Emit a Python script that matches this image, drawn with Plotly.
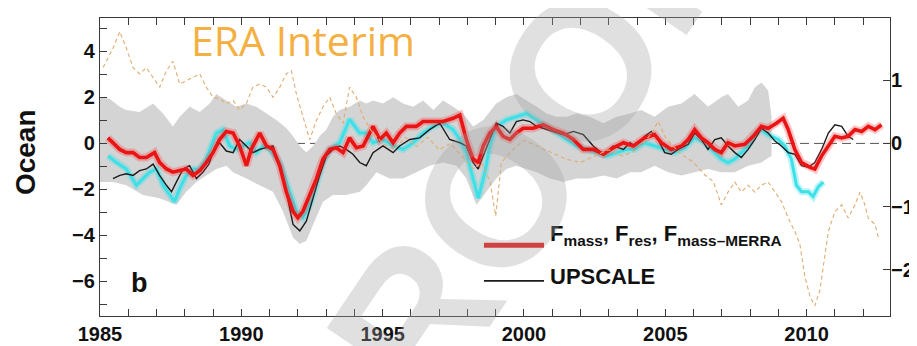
import plotly.graph_objects as go

# ---------------- data ----------------
red_years = [1985.28, 1985.46, 1985.70, 1985.93, 1986.17, 1986.40, 1986.64, 1986.93, 1987.11, 1987.35,
             1987.58, 1987.82, 1988.05, 1988.29, 1988.53, 1988.76, 1989.00, 1989.23, 1989.47, 1989.71,
             1989.94, 1990.18, 1990.35, 1990.65, 1990.89, 1991.12, 1991.36, 1991.59, 1991.83, 1992.00,
             1992.18, 1992.42, 1992.66, 1992.89, 1993.13, 1993.36, 1993.60, 1993.83, 1994.07, 1994.31,
             1994.66, 1994.90, 1995.13, 1995.37, 1995.60, 1995.84, 1996.19, 1996.43, 1996.78, 1997.14,
             1997.49, 1997.73, 1997.96, 1998.20, 1998.38, 1998.56, 1998.79, 1999.02, 1999.26, 1999.50,
             1999.73, 1999.97, 2000.33, 2000.68, 2001.04, 2001.39, 2001.75, 2002.10, 2002.45, 2002.81,
             2003.16, 2003.52, 2003.87, 2004.27, 2004.62, 2004.86, 2005.21, 2005.57, 2005.81, 2006.04,
             2006.28, 2006.51, 2006.75, 2006.98, 2007.22, 2007.46, 2007.81, 2008.11, 2008.40, 2008.64,
             2008.93, 2009.17, 2009.35, 2009.58, 2009.82, 2010.12, 2010.29, 2010.53, 2010.77, 2011.00,
             2011.24, 2011.47, 2011.71, 2011.95, 2012.18, 2012.42, 2012.65]
red_values = [0.24, 0.03, -0.26, -0.40, -0.40, -0.61, -0.61, -0.40, -0.83, -1.11,
              -1.25, -1.18, -1.11, -1.39, -1.18, -0.83, -0.40, 0.17, 0.52, 0.45,
              -0.11, -0.97, -0.26, 0.45, -0.11, -0.26, -0.97, -2.10, -2.95, -3.23,
              -2.95, -2.24, -1.53, -0.68, -0.26, -0.19, -0.40, 0.24, -0.19, -0.11,
              0.74, 0.17, 0.45, 0.03, 0.45, 0.74, 0.74, 0.95, 0.95, 0.95,
              1.09, 1.23, 0.17, -0.68, -0.83, -0.11, 0.45, 0.74, 0.31, 0.17,
              0.45, 0.66, 0.66, 0.81, 0.60, 0.45, 0.17, -0.26, -0.26, -0.47,
              -0.19, 0.03, -0.11, 0.24, 0.38, 0.03, -0.26, -0.11, 0.17, 0.60,
              0.24, 0.03, -0.26, -0.40, 0.03, -0.11, -0.04, 0.31, 0.74, 0.66,
              0.88, 1.09, 0.60, -0.26, -0.83, -1.04, -1.11, -0.54, -0.11, 0.31,
              0.24, 0.31, 0.60, 0.52, 0.74, 0.60, 0.81]

upscale_years = [1985.46, 1985.70, 1985.93, 1986.17, 1986.40, 1986.64, 1986.88, 1987.11, 1987.35, 1987.53,
                 1987.70, 1987.94, 1988.17, 1988.41, 1988.64, 1988.85, 1989.00, 1989.23, 1989.47, 1989.71,
                 1989.94, 1990.18, 1990.41, 1990.65, 1990.89, 1991.12, 1991.36, 1991.59, 1991.83, 1992.07,
                 1992.30, 1992.54, 1992.77, 1993.01, 1993.24, 1993.48, 1993.71, 1993.95, 1994.19, 1994.42,
                 1994.66, 1995.01, 1995.37, 1995.60, 1995.96, 1996.31, 1996.66, 1997.02, 1997.37, 1997.73,
                 1997.96, 1998.20, 1998.38, 1998.56, 1998.79, 1999.02, 1999.26, 1999.50, 1999.73, 1999.97,
                 2000.21, 2000.44, 2000.68, 2001.04, 2001.39, 2001.75, 2002.10, 2002.45, 2002.81, 2003.16,
                 2003.52, 2003.75, 2003.92, 2004.27, 2004.51, 2004.74, 2004.98, 2005.21, 2005.45, 2005.81,
                 2006.04, 2006.28, 2006.51, 2006.75, 2006.98, 2007.22, 2007.46, 2007.69, 2007.93, 2008.17,
                 2008.40, 2008.64, 2008.88, 2009.11, 2009.35, 2009.58, 2009.82, 2010.06, 2010.29, 2010.53,
                 2010.77, 2011.00, 2011.24, 2011.47, 2011.65]
upscale_values = [-1.53, -1.39, -1.32, -1.39, -1.18, -1.11, -0.90, -1.39, -1.82, -2.10,
                  -1.68, -1.11, -0.97, -1.53, -1.25, -0.90, -0.40, 0.03, -0.33, -0.40,
                  0.17, -0.11, -0.40, -0.26, -0.19, -0.11, -0.97, -2.10, -3.52, -3.80,
                  -3.38, -2.38, -1.39, -0.54, -0.26, -0.11, -0.26, -0.47, -0.83, -0.97,
                  -0.40, -0.11, -0.40, -0.11, 0.17, 0.24, 0.60, 0.88, 0.17, 0.03,
                  -0.11, -0.83, -1.11, -0.54, 0.17, 0.88, 0.74, 0.45, 0.95, 1.02,
                  0.95, 0.74, 0.66, 0.52, 0.38, 0.52, 0.38, -0.11, -0.47, -0.11,
                  -0.26, 0.03, -0.11, 0.31, 0.52, 0.17, -0.40, -0.47, -0.26, -0.04,
                  0.45, 0.17, -0.26, 0.17, 0.24, -0.11, -0.40, -0.61, -0.26, 0.17,
                  0.66, 0.45, 0.10, -0.11, -0.40, -0.47, -0.97, -1.04, -0.83, -0.26,
                  0.45, 0.81, 0.74, 0.31, 0.17]

cyan_years = [1985.29, 1985.58, 1985.93, 1986.29, 1986.52, 1986.76, 1987.00, 1987.23, 1987.47, 1987.64,
              1987.82, 1988.05, 1988.29, 1988.53, 1988.76, 1989.12, 1989.35, 1989.59, 1989.82, 1990.06,
              1990.30, 1990.53, 1990.77, 1991.00, 1991.36, 1991.71, 1991.95, 1992.18, 1992.42, 1992.66,
              1992.89, 1993.13, 1993.48, 1993.83, 1994.19, 1994.42, 1994.66, 1995.01, 1995.37, 1995.72,
              1996.08, 1996.43, 1996.79, 1997.14, 1997.49, 1997.73, 1997.96, 1998.20, 1998.38, 1998.62,
              1998.79, 1999.02, 1999.38, 1999.73, 2000.09, 2000.45, 2000.80, 2001.16, 2001.51, 2001.86,
              2002.22, 2002.57, 2002.93, 2003.28, 2003.63, 2003.92, 2004.27, 2004.62, 2004.98, 2005.33,
              2005.69, 2006.04, 2006.39, 2006.75, 2006.98, 2007.22, 2007.46, 2007.69, 2007.93, 2008.17,
              2008.40, 2008.64, 2008.99, 2009.23, 2009.46, 2009.64, 2009.82, 2010.06, 2010.23, 2010.41,
              2010.59]
cyan_values = [-0.54, -0.83, -1.11, -1.82, -1.53, -1.25, -1.11, -1.82, -2.24, -2.53,
               -1.96, -1.39, -1.11, -1.11, -0.68, 0.45, 0.60, -0.11, -0.26, -0.11,
               0.03, -0.40, -0.11, -0.26, -0.83, -2.10, -2.95, -3.23, -2.67, -1.82,
               -0.83, -0.26, 0.03, 1.05, 0.45, 0.45, 0.03, 0.17, -0.11, -0.26,
               0.03, 0.45, 0.74, 0.88, 0.60, 0.17, -0.40, -1.53, -2.38, -1.25,
               -0.11, 0.74, 1.02, 1.16, 1.30, 1.02, 0.74, 0.45, 0.17, -0.11,
               -0.26, -0.40, -0.54, -0.40, -0.26, -0.26, 0.03, -0.11, -0.26, -0.40,
               -0.19, 0.24, 0.03, -0.40, -0.68, -0.83, -0.68, -0.40, -0.11, 0.38,
               0.60, 0.38, 0.17, -0.11, -0.68, -1.82, -2.10, -2.10, -2.31, -1.89,
               -1.68]

band_upper_years = [1985.00, 1985.34, 1985.70, 1985.93, 1986.40, 1986.88, 1987.23, 1987.58, 1987.82, 1988.17,
                    1988.53, 1988.88, 1989.12, 1989.47, 1989.82, 1990.18, 1990.53, 1990.89, 1991.24, 1991.59,
                    1991.83, 1992.07, 1992.30, 1992.54, 1992.77, 1993.01, 1993.24, 1993.48, 1993.83, 1994.19,
                    1994.42, 1994.66, 1995.01, 1995.37, 1995.72, 1996.08, 1996.43, 1996.79, 1997.14, 1997.49,
                    1997.85, 1998.20, 1998.56, 1999.02, 1999.38, 1999.73, 2000.09, 2000.45, 2000.80, 2001.16,
                    2001.51, 2001.86, 2002.33, 2002.81, 2003.28, 2003.75, 2004.15, 2004.62, 2005.10, 2005.57,
                    2006.04, 2006.51, 2006.98, 2007.22, 2007.58, 2007.93, 2008.17, 2008.40, 2008.64, 2008.76]
band_upper = [2.01, 1.94, 1.59, 1.45, 1.37, 1.73, 1.30, 0.74, 1.16, 1.59,
              1.37, 1.73, 2.15, 1.87, 1.59, 1.73, 1.59, 1.30, 1.02, 0.67,
              0.31, -0.11, -0.40, -0.11, 0.31, 0.60, 1.16, 1.45, 1.59, 1.87,
              1.73, 1.87, 1.73, 2.01, 1.73, 1.59, 1.87, 1.45, 1.87, 1.59,
              1.30, 0.74, 1.02, 1.73, 2.01, 2.15, 1.87, 1.59, 1.30, 1.16,
              1.16, 1.30, 1.16, 0.88, 1.16, 1.30, 1.45, 1.16, 1.59, 1.73,
              2.15, 1.59, 2.01, 2.15, 1.59, 1.87, 2.44, 2.65, 2.30, 1.16]
band_lower_years = [1985.00, 1985.46, 1985.93, 1986.52, 1987.11, 1987.70, 1988.05, 1988.41, 1988.76, 1989.12,
                    1989.47, 1989.71, 1990.18, 1990.65, 1991.12, 1991.47, 1991.83, 1992.07, 1992.30, 1992.54,
                    1992.89, 1993.24, 1993.71, 1994.19, 1994.42, 1994.78, 1995.25, 1995.72, 1996.19, 1996.66,
                    1997.14, 1997.61, 1997.96, 1998.32, 1998.67, 1999.02, 1999.38, 1999.73, 2000.09, 2000.45,
                    2000.92, 2001.39, 2001.86, 2002.33, 2002.81, 2003.28, 2003.75, 2004.15, 2004.62, 2005.10,
                    2005.57, 2006.04, 2006.51, 2006.98, 2007.46, 2007.93, 2008.40, 2008.76]
band_lower = [-1.68, -1.68, -1.82, -2.24, -2.38, -2.67, -2.10, -1.68, -1.39, -1.11,
              -0.97, -1.25, -1.53, -1.82, -2.10, -2.95, -4.09, -4.37, -4.23, -3.52,
              -2.53, -2.24, -2.24, -2.10, -1.82, -1.25, -1.53, -1.53, -1.25, -0.97,
              -0.83, -0.97, -1.53, -2.67, -2.10, -1.53, -1.11, -0.97, -1.11, -1.25,
              -1.53, -1.68, -1.53, -1.53, -1.39, -1.53, -1.25, -1.25, -0.97, -1.25,
              -1.39, -1.25, -1.11, -1.25, -1.25, -0.97, -0.83, -0.54]

era_years = [1985.11, 1985.46, 1985.70, 1985.93, 1986.17, 1986.40, 1986.64, 1986.88, 1987.11, 1987.35,
             1987.58, 1987.82, 1988.05, 1988.29, 1988.53, 1988.76, 1989.00, 1989.23, 1989.47, 1989.71,
             1989.94, 1990.18, 1990.41, 1990.65, 1990.89, 1991.12, 1991.36, 1991.59, 1991.77, 1991.95,
             1992.18, 1992.42, 1992.66, 1992.89, 1993.13, 1993.36, 1993.60, 1993.83, 1994.07, 1994.31,
             1994.60, 1995.00, 1995.40, 1995.80, 1996.20, 1996.60, 1997.00, 1997.40, 1997.80, 1998.20,
             1998.50, 1998.80, 1999.00, 1999.20, 1999.60, 2000.00, 2000.50, 2001.00, 2001.50, 2002.00,
             2002.50, 2003.00, 2003.50, 2004.00, 2004.50, 2004.75, 2005.00, 2005.50, 2006.00, 2006.40,
             2006.70, 2006.98, 2007.22, 2007.46, 2007.69, 2007.93, 2008.17, 2008.40, 2008.64, 2008.88,
             2009.11, 2009.35, 2009.58, 2009.76, 2009.94, 2010.12, 2010.29, 2010.47, 2010.65, 2010.77,
             2011.00, 2011.24, 2011.47, 2011.71, 2011.89, 2012.06, 2012.18, 2012.42, 2012.54]
era_values = [1.20, 1.51, 1.77, 1.51, 1.20, 1.10, 1.20, 1.04, 0.89, 1.15,
              1.30, 0.94, 0.99, 1.04, 1.10, 0.89, 0.73, 0.71, 0.63, 0.68,
              0.53, 0.63, 0.89, 0.94, 0.89, 0.73, 0.89, 1.10, 1.15, 0.78,
              0.42, 0.06, 0.37, 0.58, 0.73, 0.47, 0.32, 0.89, 0.73, 0.42,
              0.20, 0.00, -0.10, 0.10, -0.05, 0.10, -0.10, 0.00, -0.20, -0.40,
              -0.30, -0.60, -1.15, -0.30, -0.10, 0.05, -0.05, -0.15, -0.25, -0.30,
              -0.20, -0.10, -0.20, -0.10, 0.15, 0.35, 0.10, -0.15, -0.30, -0.50,
              -0.60, -0.97, -0.77, -0.61, -0.77, -0.66, -0.77, -0.66, -0.61, -0.77,
              -0.92, -1.18, -1.39, -1.59, -2.11, -2.42, -2.57, -2.32, -1.80, -1.39,
              -1.08, -0.97, -1.18, -0.97, -0.77, -0.97, -1.18, -1.28, -1.49]

x_tick_years = [1985, 1990, 1995, 2000, 2005, 2010]
left_ticks = [-6, -4, -2, 0, 2, 4]
right_ticks = [-2, -1, 0, 1]

# ---------------- figure ----------------
FONT = "Liberation Sans"
AX = "#3a3a3a"

fig = go.Figure()

# gray envelope
fig.add_trace(go.Scatter(
    x=band_upper_years + band_lower_years[::-1],
    y=band_upper + band_lower[::-1],
    fill="toself", fillcolor="rgb(212,212,212)", mode="none",
    hoverinfo="skip", showlegend=False))

# ERA Interim (right axis), dashed orange
fig.add_trace(go.Scatter(x=era_years, y=era_values, yaxis="y2", mode="lines",
                         line=dict(color="rgb(224,172,112)", width=1.1, dash="4px,3px"),
                         showlegend=False))

# cyan series (with soft halo)
fig.add_trace(go.Scatter(x=cyan_years, y=cyan_values, mode="lines",
                         line=dict(color="rgba(64,224,232,0.35)", width=7), showlegend=False, hoverinfo="skip"))
fig.add_trace(go.Scatter(x=cyan_years, y=cyan_values, mode="lines",
                         line=dict(color="rgb(60,225,232)", width=3), showlegend=False))

# UPSCALE (black)
fig.add_trace(go.Scatter(x=upscale_years, y=upscale_values, mode="lines",
                         line=dict(color="#1a1a1a", width=1.4), name="UPSCALE", showlegend=False))

# F_mass (red, with halo)
fig.add_trace(go.Scatter(x=red_years, y=red_values, mode="lines",
                         line=dict(color="rgba(255,60,60,0.3)", width=8), showlegend=False, hoverinfo="skip"))
fig.add_trace(go.Scatter(x=red_years, y=red_values, mode="lines",
                         line=dict(color="rgb(235,20,20)", width=3.6), showlegend=False))

# dashed zero reference line
fig.add_shape(type="line", xref="paper", x0=0, x1=1, yref="y", y0=0, y1=0,
              line=dict(color="#555555", width=1, dash="9px,5px"), layer="between")

# manual legend
fig.add_shape(type="line", xref="paper", yref="paper", x0=0.486, x1=0.562, y0=0.237, y1=0.237,
              line=dict(color="rgb(230,20,20)", width=5))
fig.add_shape(type="line", xref="paper", yref="paper", x0=0.486, x1=0.562, y0=0.118, y1=0.118,
              line=dict(color="#1a1a1a", width=1.6))
fig.add_annotation(xref="paper", yref="paper", x=0.567, y=0.272, xanchor="left", yanchor="middle",
                   text="F<sub>mass</sub>, F<sub>res</sub>, F<sub>mass\u2013MERRA</sub>", showarrow=False,
                   font=dict(family=FONT, size=22, color="#111", weight="bold"))
fig.add_annotation(xref="paper", yref="paper", x=0.567, y=0.132, xanchor="left", yanchor="middle",
                   text="UPSCALE", showarrow=False,
                   font=dict(family=FONT, size=22, color="#111", weight="bold"))

# panel letter
fig.add_annotation(xref="paper", yref="paper", x=0.050, y=0.112, xanchor="center", yanchor="middle",
                   text="b", showarrow=False, font=dict(family=FONT, size=27, color="#111", weight="bold"))

# ERA Interim label
fig.add_annotation(xref="paper", yref="paper", x=0.257, y=0.925, xanchor="center", yanchor="middle",
                   text="ERA Interim", showarrow=False,
                   font=dict(family="Open Sans", size=41, color="#F4B042"))

# y-axis label
fig.add_annotation(xref="paper", yref="paper", x=-0.095, y=0.55, xanchor="center", yanchor="middle",
                   text="Ocean", showarrow=False, textangle=-90,
                   font=dict(family=FONT, size=28, color="#111", weight="bold"))

# PROOF watermark
fig.add_annotation(xref="paper", yref="paper", x=0.50, y=0.40, xanchor="center", yanchor="middle",
                   text="PROOF", showarrow=False, textangle=-56,
                   font=dict(family=FONT, size=195, color="rgba(160,160,160,0.33)", weight="bold"))

fig.update_layout(
    width=917, height=346,
    margin=dict(l=92, r=35, t=9, b=33),
    paper_bgcolor="white", plot_bgcolor="white",
    showlegend=False,
    xaxis=dict(range=[1985, 2012.95], tickvals=x_tick_years, ticks="inside", ticklen=7, tickwidth=1,
               tickcolor=AX, showline=True, linecolor=AX, linewidth=1.3, mirror="ticks",
               showgrid=False, zeroline=False,
               minor=dict(dtick=1, tick0=1985, ticks="inside", ticklen=7, tickcolor=AX, showgrid=False),
               tickfont=dict(family=FONT, size=20, color="#111", weight="bold")),
    yaxis=dict(range=[-7.5, 5.45], tickvals=left_ticks, ticks="inside", ticklen=7, tickwidth=1,
               tickcolor=AX, showline=True, linecolor=AX, linewidth=1.3, mirror=True,
               showgrid=False, zeroline=False,
               minor=dict(dtick=1, tick0=0, ticks="inside", ticklen=7, tickcolor=AX, showgrid=False),
               tickfont=dict(family=FONT, size=20, color="#111", weight="bold")),
    yaxis2=dict(range=[-2.73, 1.985], tickvals=right_ticks, overlaying="y", side="right",
                ticks="inside", ticklen=7, tickwidth=1, tickcolor=AX, showline=False,
                showgrid=False, zeroline=False,
                tickfont=dict(family=FONT, size=20, color="#111", weight="bold")),
)

fig.write_html("out.html")
